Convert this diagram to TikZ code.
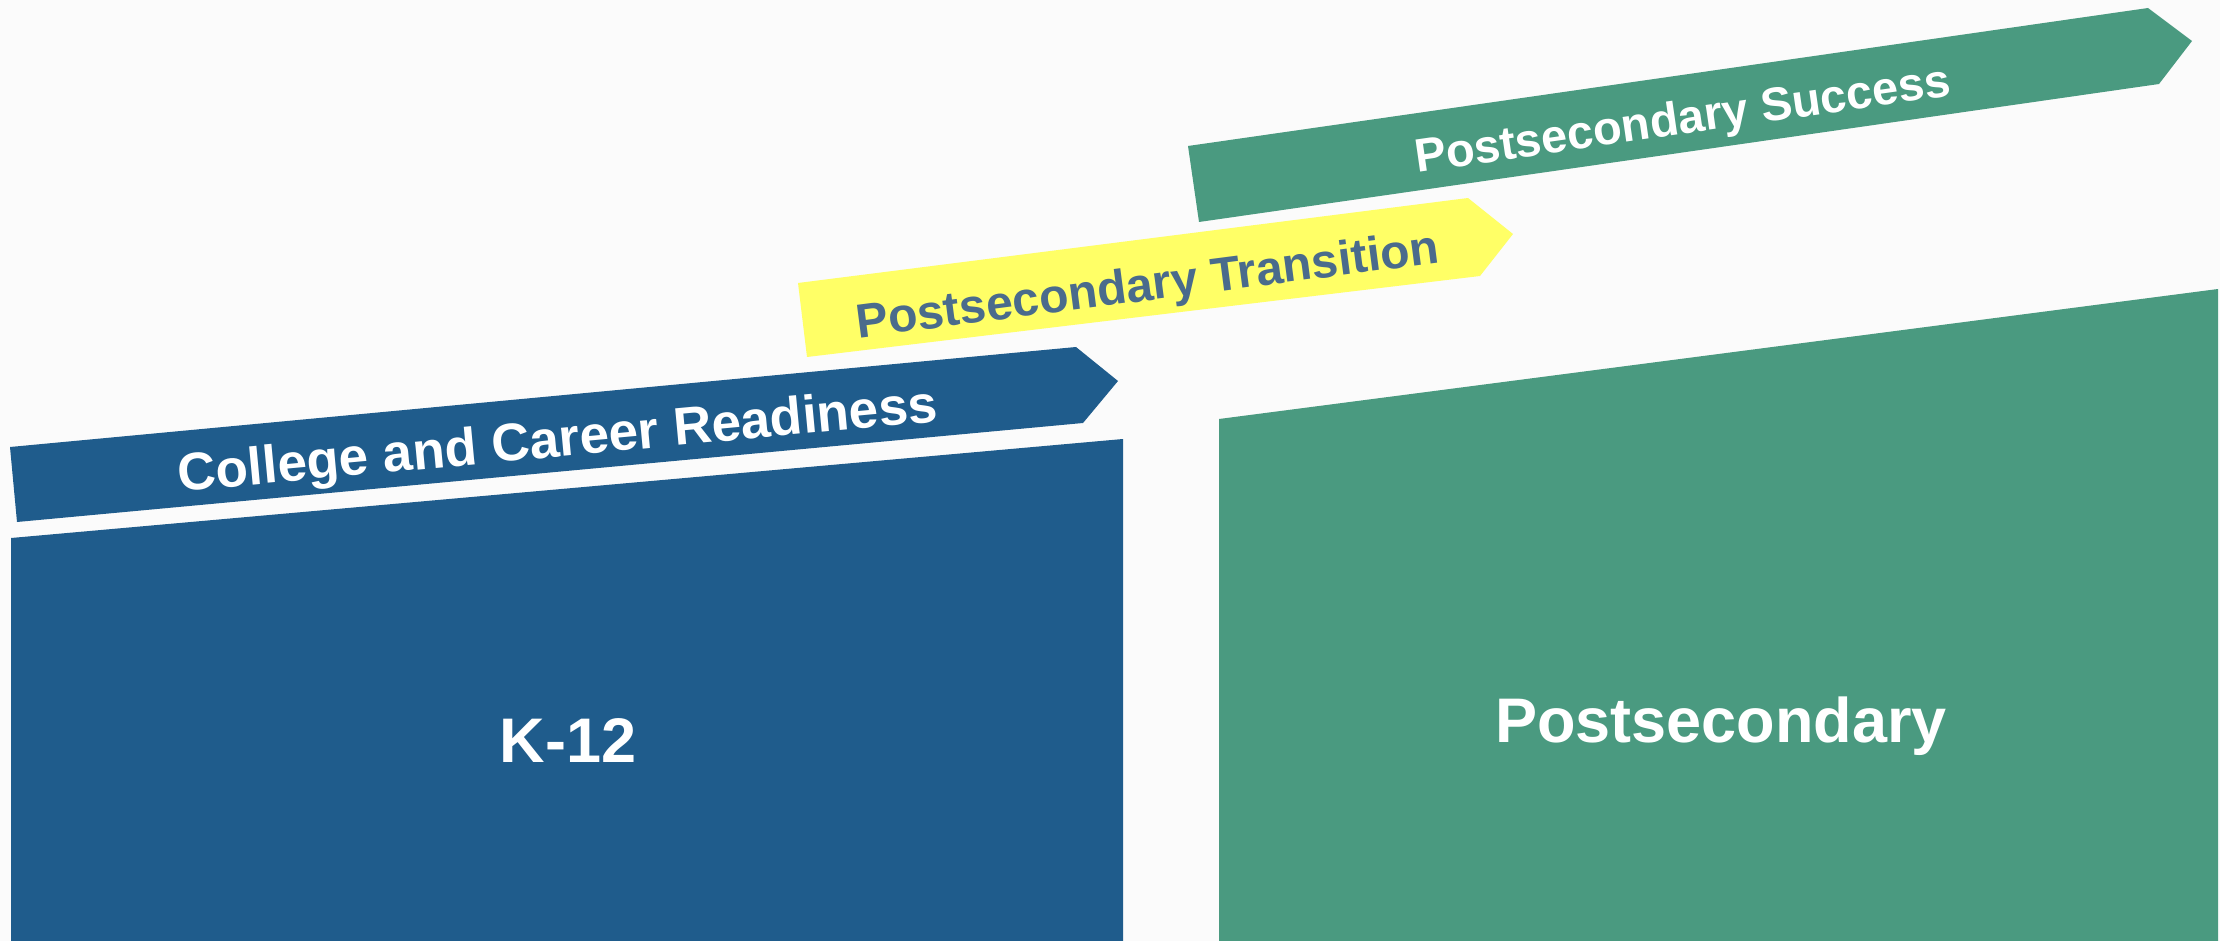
\documentclass[tikz,border=0pt]{standalone}
\usepackage{fontspec}
\setmainfont{Liberation Sans}
\definecolor{bgc}{HTML}{FBFBFB}
\definecolor{k12blue}{HTML}{1F5C8C}
\definecolor{psgreen}{HTML}{4A9A80}
\definecolor{transyellow}{HTML}{FFFF66}
\definecolor{slatetext}{HTML}{4A6B8C}
\tikzset{
  bandtext/.style={font=\bfseries\fontsize{53}{56}\selectfont, text=white, inner sep=0pt},
  bigtext/.style={font=\bfseries\fontsize{63}{68}\selectfont, text=white, inner sep=0pt},
}
\begin{document}
\begin{tikzpicture}[x=1pt,y=-1pt]
\useasboundingbox (0,0) rectangle (2220,941);
\fill[bgc] (0,0) rectangle (2220,941);
% K-12 box
\fill[k12blue] (11,538) -- (1123,439) -- (1123,941) -- (11,941) -- cycle;
\node[bigtext] (k12) at (568,741) {K-12};
% College and Career Readiness banner
\fill[k12blue] (10,447) -- (1076,347) -- (1118,381) -- (1083,423) -- (17,522) -- cycle;
\node[bandtext, rotate=5.3] (ccr) at (558,443) {College and Career Readiness};
% Postsecondary box
\fill[psgreen] (1219,419) -- (2218,289) -- (2218,941) -- (1219,941) -- cycle;
\node[bigtext] (ps) at (1721,726) {Postsecondary};
% Transition banner
\fill[transyellow] (798,283) -- (1468,198) -- (1513,234) -- (1480,276) -- (807,357) -- cycle;
\node[bandtext, text=slatetext, font=\bfseries\fontsize{48}{52}\selectfont, rotate=7.4] (pt) at (1148,288) {Postsecondary Transition};
% Success banner
\fill[psgreen] (1188,146) -- (2148,8) -- (2192,41) -- (2159,84) -- (1199,222) -- cycle;
\node[bandtext, font=\bfseries\fontsize{47}{51}\selectfont, rotate=8.2] (pss) at (1683,122) {Postsecondary Success};
\end{tikzpicture}
\end{document}
